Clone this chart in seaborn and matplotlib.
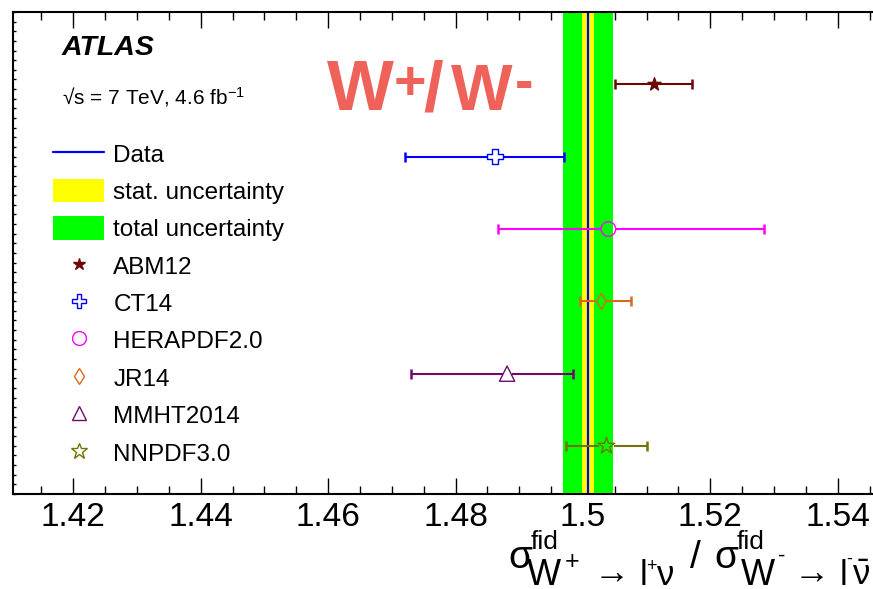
import numpy as np
import matplotlib
matplotlib.use("Agg")
import matplotlib.pyplot as plt
from matplotlib.lines import Line2D
from matplotlib.patches import Patch
from matplotlib.ticker import MultipleLocator
import seaborn as sns

# PDF-set predictions of the W+/W- fiducial cross-section ratio
models = ["ABM12", "CT14", "HERAPDF2.0", "JR14", "MMHT2014", "NNPDF3.0"]
pred_central = [1.5111, 1.4862, 1.5040, 1.5029, 1.4881, 1.5037]
pred_low = [1.5050, 1.4720, 1.4867, 1.4996, 1.4730, 1.4973]
pred_high = [1.5171, 1.4970, 1.5284, 1.5076, 1.4985, 1.5100]

# measurement
data_value = 1.5008
data_stat = 0.0009
data_total = 0.0039

x_ticks = [1.42, 1.44, 1.46, 1.48, 1.50, 1.52, 1.54]
x_tick_labels = ["1.42", "1.44", "1.46", "1.48", "1.5", "1.52", "1.54"]

# drawing style per PDF set
colors = ["#6B0707", "#0000FF", "#FF00FF", "#D96A1C", "#6E0A6E", "#737308"]
markers = ["*", "P", "o", "d", "^", "*"]
marker_pt = [9.8, 11.0, 10.5, 8.2, 11.0, 12.5]
filled = [True, False, False, False, False, False]
gap_frac = [0.0, 0.5, 0.5, 0.42, 0.3, 0.42]

sns.set_theme(style="ticks")
plt.rcParams["font.family"] = ["Liberation Sans", "DejaVu Sans"]
plt.rcParams["mathtext.fontset"] = "custom"
plt.rcParams["mathtext.rm"] = "Liberation Sans"
plt.rcParams["mathtext.it"] = "Liberation Sans"
plt.rcParams["mathtext.bf"] = "Liberation Sans:bold"
plt.rcParams["mathtext.sf"] = "Liberation Sans"

W, H = 873, 589
fig = plt.figure(figsize=(W / 100, H / 100), dpi=100)
fig.patch.set_facecolor("white")
ax = fig.add_axes([13.3 / W, 95 / H, 888.1 / W, 482 / H])
ax.set_facecolor("white")
ax.set_xlim(1.41058, 1.55)
ax.set_ylim(0.336, 7.0)

# measurement bands
ax.axvspan(data_value - data_total, data_value + data_total, color="#00FF00", lw=0, zorder=1)
ax.axvspan(data_value - data_stat, data_value + data_stat, color="#FFFF00", lw=0, zorder=1.1)
ax.axvline(data_value, color="#0000FF", lw=1.6, zorder=1.2)

px_per_unit = ax.transData.transform((1.0, 0))[0] - ax.transData.transform((0.0, 0))[0]
pt_to_px = fig.dpi / 72.0

n = len(models)
for i in range(n):
    y = n - i
    c, lo, hi = pred_central[i], pred_low[i], pred_high[i]
    col = colors[i]
    gap = gap_frac[i] * marker_pt[i] * pt_to_px / px_per_unit
    ax.plot([lo, c - gap], [y, y], color=col, lw=1.5, solid_capstyle="butt", zorder=3)
    ax.plot([c + gap, hi], [y, y], color=col, lw=1.5, solid_capstyle="butt", zorder=3)
    ax.plot([lo, hi], [y, y], ls="none", marker="|", ms=7.7, mew=1.8, color=col, zorder=3)
    sns.scatterplot(x=[c], y=[y], marker=markers[i], s=marker_pt[i] ** 2, color=col,
                    linewidth=1.0, legend=False, ax=ax, zorder=4)
    coll = ax.collections[-1]
    coll.set_edgecolor(col)
    coll.set_facecolor(col if filled[i] else "none")

# axes styling
for s in ax.spines.values():
    s.set_color("black")
    s.set_linewidth(1.5)
ax.set_xticks(x_ticks)
ax.set_xticklabels(x_tick_labels)
ax.xaxis.set_minor_locator(MultipleLocator(0.005))
ax.tick_params(axis="x", which="both", direction="in", top=True, bottom=True,
               colors="black", labelsize=24, pad=6, width=1.0)
ax.tick_params(axis="x", which="major", length=11.5)
ax.tick_params(axis="x", which="minor", length=5.8)
ax.set_yticks(np.linspace(0.336, 7.0, 51))
ax.tick_params(axis="y", which="both", direction="in", left=True, right=True,
               labelleft=False, length=2.0, width=1.0, colors="black")
ax.set_xlabel("")
ax.set_ylabel("")
ax.grid(False)

# legend
handles = [Line2D([0], [0], color="#0000FF", lw=1.6),
           Patch(facecolor="#FFFF00", edgecolor="none"),
           Patch(facecolor="#00FF00", edgecolor="none")]
labels = ["Data", "stat. uncertainty", "total uncertainty"]
for i in range(n):
    handles.append(Line2D([0], [0], ls="none", marker=markers[i], ms=marker_pt[i] * 0.95,
                          mec=colors[i], mfc=colors[i] if filled[i] else "none", mew=1.0))
    labels.append(models[i])
leg = ax.legend(handles, labels, loc="upper left", frameon=False, fontsize=17.5,
                handlelength=2.1, handleheight=1.11, labelspacing=0.51, handletextpad=0.38,
                borderpad=0, borderaxespad=0,
                bbox_to_anchor=(53 / W, 1 - 141.5 / H), bbox_transform=fig.transFigure)
for t in leg.get_texts():
    t.set_color("black")


def put_pieces(pieces, **kw):
    """Place text fragments at pixel positions (x, baseline y measured from the top)."""
    for s, size, x, y in pieces:
        fig.text(x / W, 1 - y / H, s, fontsize=size, va="baseline", ha="left", **kw)


# annotations
fig.text(62 / W, 1 - 48 / H, "ATLAS", fontsize=20.5, fontweight="bold", fontstyle="italic",
         va="center", ha="left", color="black")
fig.text(62 / W, 1 - 97 / H, "√s = 7 TeV, 4.6 fb$^{-1}$", fontsize=15,
         va="center", ha="left", color="black")

put_pieces([("W", 51, 327, 110), ("+", 40, 394, 99), ("/", 51, 423, 110),
            ("W", 47, 451, 110), ("-", 40, 515, 99)],
           color="#EF6259", fontweight="bold")

put_pieces([("σ", 28, 508, 568), ("fid", 19, 531, 549), ("W", 26, 527, 585),
            ("+", 18, 565, 569), ("→", 26, 594, 584), ("l", 25, 640, 585),
            ("+", 13, 646, 571), ("ν", 25, 657, 585), ("/", 28, 690, 568),
            ("σ", 28, 714, 568), ("fid", 19, 737, 549), ("W", 26, 741, 585),
            ("-", 16, 778, 562), ("→", 26, 794, 584), ("l", 25, 840, 585),
            ("-", 13, 846, 564), (r"$\bar{\nu}$", 25, 852, 585)],
           color="black")

fig.savefig("out.png", dpi=100)
